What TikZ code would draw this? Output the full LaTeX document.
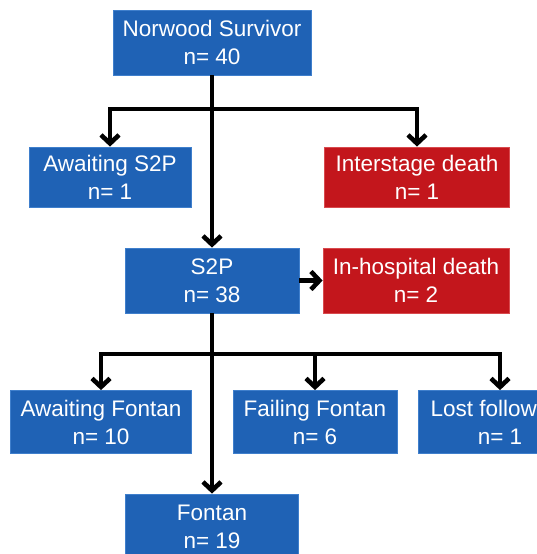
\documentclass[tikz,border=0pt]{standalone}
\usepackage{fontspec}
\setmainfont{Liberation Sans}
\usetikzlibrary{arrows.meta}
\definecolor{boxblue}{HTML}{1F62B5}
\definecolor{boxblueedge}{HTML}{3F7FCC}
\definecolor{boxred}{HTML}{C3161C}
\definecolor{boxrededge}{HTML}{D84A4E}
\begin{document}
\begin{tikzpicture}[x=1pt,y=-1pt,
  box/.style={rectangle, fill=boxblue, draw=boxblueedge, line width=0.8pt, text=white,
    align=center, inner sep=0pt, font=\fontsize{22.5}{28}\selectfont},
  redbox/.style={box, fill=boxred, draw=boxrededge},
  link/.style={line width=4.6pt, line join=miter, draw=black},
  arr/.style={link, -{Straight Barb[length=8.5pt,width=18pt,line width=4.6pt]}}]
\useasboundingbox (0,0) rectangle (537,554);
\clip (0,0) rectangle (537,554);
\node[box, minimum width=198pt, minimum height=65pt] (norwood) at (212,42.5) {Norwood Survivor\\n= 40};
\node[box, minimum width=162pt, minimum height=60pt] (aws2p) at (110,177) {Awaiting S2P\\n= 1};
\node[redbox, minimum width=185pt, minimum height=60pt] (inter) at (417,177) {Interstage death\\n= 1};
\node[box, minimum width=174pt, minimum height=65pt] (s2p) at (212,280.5) {S2P\\n= 38};
\node[redbox, minimum width=186pt, minimum height=65pt] (inhosp) at (416,280.5) {In-hospital death\\n= 2};
\node[box, minimum width=181pt, minimum height=63pt] (awf) at (101,422) {Awaiting Fontan\\n= 10};
\node[box, minimum width=164pt, minimum height=63pt] (failf) at (315,422) {Failing Fontan\\n= 6};
\node[box, minimum width=164pt, minimum height=63pt] (lost) at (500,422) {Lost follow-up\\n= 1};
\node[box, minimum width=173pt, minimum height=66pt] (fontan) at (212,527) {Fontan\\n= 19};
\coordinate (b1) at (212,109);
\coordinate (b2) at (212,354);
\draw[arr] (norwood.south) -- (s2p.north);
\draw[arr] (b1) -| (aws2p.north);
\draw[arr] (b1) -| (inter.north);
\draw[arr] (s2p.east) -- (inhosp.west);
\draw[arr] (s2p.south) -- (fontan.north);
\draw[arr] (b2) -| (awf.north);
\draw[arr] (b2) -| (failf.north);
\draw[arr] (b2) -| (lost.north);
\end{tikzpicture}
\end{document}
